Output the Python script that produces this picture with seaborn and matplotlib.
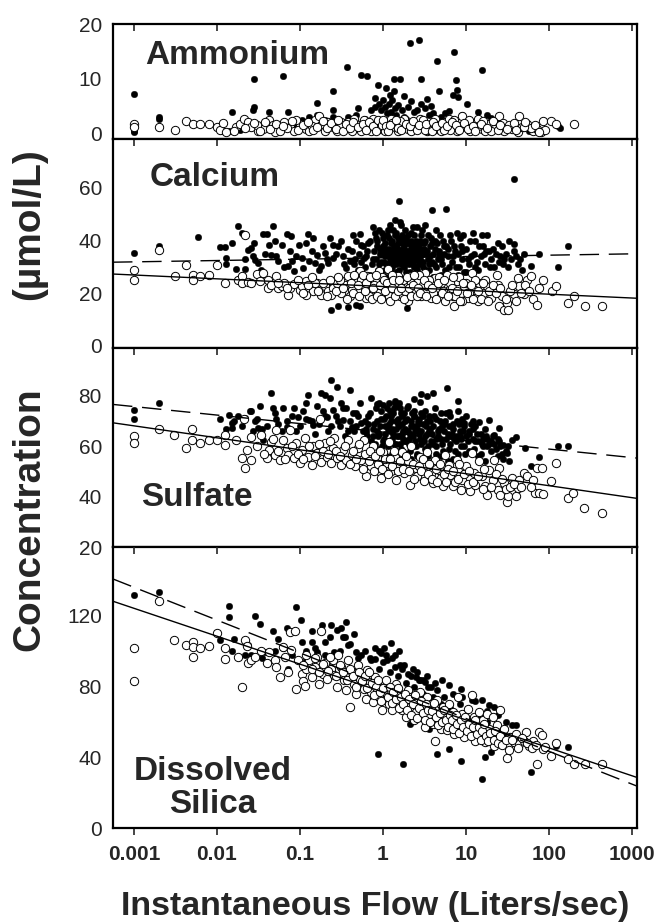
import matplotlib
matplotlib.use("Agg")
import matplotlib.pyplot as plt
import seaborn as sns
import pandas as pd
from matplotlib.ticker import NullLocator

# ---------------- data (flow in L/s, concentration in umol/L) ----------------
amm_filled = [(0.001, 7.2), (0.001, 0.4), (0.001, 0.2), (0.002, 2.9), (0.002, 2.5), (0.014, 0.4), (0.015, 3.9),
    (0.028, 9.9), (0.028, 4.8), (0.027, 4.2), (0.042, 3.9), (0.063, 10.5), (0.072, 3.9), (0.16, 3.3), (0.16, 5.5),
    (0.25, 7.7), (0.25, 4.3), (0.37, 12.1), (0.55, 10.6), (0.65, 10.5), (0.88, 8.8), (1.1, 8.2), (1.35, 9.9),
    (1.6, 9.9), (1.35, 7.7), (2.1, 16.6), (2.7, 17.1), (2.9, 9.9), (4.5, 13.2), (4.7, 7.7), (7.2, 14.8), (7.6, 9.8),
    (6.9, 6.9), (7.8, 7.8), (8.0, 6.6), (10.3, 5.4), (15.4, 11.5), (14, 3.8), (38, 1.6), (135, 0.9), (130, 1.2),
    (0.72, 4.2), (0.81, 4.8), (0.9, 5.4), (0.95, 4.2), (1.0, 6.0), (1.05, 4.8), (1.11, 3.6), (1.17, 5.4), (1.24, 3.9),
    (1.3, 6.0), (1.38, 4.5), (1.45, 3.3), (1.53, 5.1), (1.7, 4.2), (1.8, 3.0), (2.0, 4.8), (2.35, 3.9), (2.6, 4.2),
    (2.9, 5.4), (3.25, 4.5), (3.4, 6.3), (3.6, 3.3), (4.0, 3.6), (5.0, 3.0), (5.6, 3.6), (0.38, 3.0), (0.47, 3.3),
    (0.25, 3.0), (0.2, 2.4), (0.13, 3.0), (0.105, 2.4), (0.069, 1.7), (0.055, 1.4), (0.045, 1.1), (0.036, 0.8),
    (0.024, 1.1), (0.019, 0.5), (0.017, 0.8), (0.012, 0.4), (18, 3.3), (20, 2.7), (25, 2.0), (31, 1.1), (58, 0.4),
    (72, 0.4), (0.6, 2.5), (0.7, 1.8), (1.2, 2.2), (1.9, 2.6), (2.4, 1.9), (3.0, 2.4), (4.2, 2.0), (6.0, 2.2),
    (8.5, 1.5), (12, 2.0), (0.3, 1.8), (0.4, 2.2), (0.09, 1.5), (0.15, 2.0), (0.8, 6.5), (1.2, 7.0), (2.2, 5.8),
    (1.8, 6.8), (3.8, 5.0), (6.2, 4.0), (9.0, 3.3), (0.5, 4.6)]
amm_open = [(0.001, 1.7), (0.001, 1.1), (0.002, 1.1), (0.0031, 0.6), (0.0042, 2.2), (0.0052, 1.6), (0.0062, 1.6),
    (0.008, 1.6), (0.01, 1.1), (0.011, 0.5), (0.017, 1.1), (0.019, 1.7), (0.021, 2.6), (0.024, 2.0), (0.026, 1.1),
    (0.031, 0.4), (0.036, 0.8), (0.042, 2.3), (0.047, 1.4), (0.055, 0.5), (0.065, 2.0), (0.076, 1.1), (0.085, 0.4),
    (0.1, 1.7), (0.117, 0.8), (0.13, 0.4), (0.154, 2.3), (0.17, 3.2), (0.18, 1.4), (0.2, 0.4), (0.22, 2.0),
    (0.25, 1.1), (0.28, 0.4), (0.31, 2.0), (0.35, 1.1), (0.38, 2.0), (0.42, 0.4), (0.47, 1.7), (0.53, 0.8),
    (0.59, 2.3), (0.65, 1.4), (0.72, 0.4), (0.76, 2.6), (0.85, 1.7), (0.95, 0.8), (1.05, 0.4), (1.11, 2.0),
    (1.24, 2.6), (1.38, 1.1), (1.53, 0.4), (1.7, 1.7), (1.8, 2.6), (2.0, 0.8), (2.2, 0.4), (2.5, 2.0), (2.8, 2.6),
    (3.1, 1.1), (3.4, 0.4), (3.8, 1.7), (4.2, 2.6), (4.5, 0.8), (5.0, 0.4), (5.6, 2.0), (6.2, 2.6), (6.9, 1.1),
    (7.7, 0.4), (8.6, 2.0), (9.0, 3.2), (10, 1.1), (11.2, 0.4), (12.4, 1.7), (13.8, 2.6), (15.4, 0.8), (17, 0.4),
    (19, 1.7), (22, 0.8), (25, 3.2), (29, 0.4), (36, 0.8), (42, 0.2), (44, 3.2), (47, 1.1), (55, 1.7), (65, 0.4),
    (72, 0.8), (85, 2.2), (105, 2.2), (123, 1.6), (200, 1.6), (0.013, 0.2), (0.03, 1.5), (0.05, 0.2), (0.07, 0.9),
    (0.09, 2.3), (0.14, 1.2), (0.3, 1.5), (0.45, 2.6), (0.55, 0.3), (0.8, 1.0), (0.9, 2.2), (1.3, 1.8), (1.6, 2.2),
    (2.4, 1.3), (3.0, 2.3), (3.6, 0.6), (4.8, 1.5), (6.5, 0.6), (7.2, 2.3), (8.0, 1.2), (11, 2.3), (14, 1.2),
    (16, 2.2), (20, 0.3), (28, 1.9), (33, 1.4), (60, 0.9), (80, 0.2), (90, 0.5),
    (0.012, 1.8), (0.016, 0.3), (0.022, 0.9), (0.028, 1.9), (0.033, 0.3), (0.038, 2.0), (0.044, 0.7), (0.052, 1.6),
    (0.058, 0.3), (0.062, 1.2), (0.08, 2.2), (0.095, 0.5), (0.11, 1.4), (0.125, 2.1), (0.145, 0.5), (0.16, 1.1),
    (0.19, 2.2), (0.21, 0.9), (0.24, 1.8), (0.27, 0.8), (0.29, 2.4), (0.33, 0.3), (0.36, 1.6), (0.4, 1.0),
    (0.43, 2.0), (0.5, 1.1), (0.57, 1.7), (0.62, 0.6), (0.68, 2.0), (0.75, 1.2), (0.82, 0.3), (0.88, 2.4),
    (0.98, 1.4), (1.0, 2.4), (1.08, 1.2), (1.15, 0.3), (1.2, 1.5), (1.45, 2.3), (1.5, 1.0), (1.65, 0.6), (1.9, 1.7),
    (2.1, 1.2), (2.3, 2.2), (2.6, 0.5), (2.7, 1.5), (3.2, 0.6), (3.3, 1.7), (3.9, 0.3), (4.0, 2.0), (4.4, 1.2),
    (5.2, 1.8), (5.4, 0.6), (5.9, 1.3), (6.8, 2.0), (7.5, 1.5), (8.3, 0.5), (9.5, 1.8), (10.5, 0.8), (12, 1.2),
    (13, 0.3), (15, 1.6), (18, 1.0), (21, 2.2), (24, 0.6), (26, 1.5), (31, 0.8), (38, 1.9), (40, 0.5), (50, 1.1),
    (52, 2.0), (68, 1.4), (75, 0.2)]

ca_filled = [(0.001, 35.3), (0.002, 37.8), (0.006, 41.2), (0.011, 37.5), (0.0125, 37.5), (0.015, 39.1),
    (0.013, 33.4), (0.013, 31.2), (0.018, 45.4), (0.02, 42.9), (0.017, 29.2), (0.022, 29.2), (0.024, 36.5),
    (0.026, 37.2), (0.027, 34.0), (0.029, 32.7), (0.031, 31.5), (0.034, 28.9), (0.036, 42.6), (0.04, 42.6),
    (0.042, 38.4), (0.047, 45.4), (0.045, 34.6), (0.051, 34.0), (0.055, 32.1), (0.06, 38.4), (0.069, 42.6),
    (0.078, 41.9), (0.072, 30.2), (0.08, 32.1), (0.085, 28.3), (0.098, 38.4), (0.106, 33.4), (0.11, 29.5),
    (0.124, 42.6), (0.142, 41.0), (0.13, 32.1), (0.154, 31.5), (0.16, 34.6), (0.18, 30.2), (0.2, 35.3),
    (0.22, 31.5), (0.25, 38.4), (0.25, 33.4), (0.29, 37.8), (0.33, 34.0), (0.36, 29.5), (0.4, 32.1), (0.53, 42.6),
    (0.55, 38.4), (0.59, 33.4), (0.24, 13.7), (0.29, 15.0), (0.38, 14.6), (0.47, 15.6), (0.53, 15.2), (1.94, 14.3),
    (1.58, 55.2), (3.9, 51.5), (5.7, 52.0), (37.5, 63.4), (37.5, 38.8), (168, 38.0), (130, 29.9), (76, 34.9),
    (60, 30.4), (0.65, 36), (0.7, 40), (0.75, 33), (0.8, 43), (0.85, 38), (0.9, 31), (0.95, 35), (1.0, 41),
    (1.05, 29), (1.1, 37), (1.15, 44), (1.2, 33), (1.25, 39), (1.3, 30), (1.35, 35), (1.4, 42), (1.45, 28),
    (1.5, 37), (1.6, 32), (1.65, 46), (1.7, 39), (1.75, 34), (1.8, 30), (1.9, 41), (2.0, 36), (2.1, 28), (2.2, 43),
    (2.3, 33), (2.4, 38), (2.5, 30), (2.6, 45), (2.7, 35), (2.8, 40), (3.0, 32), (3.1, 37), (3.3, 29), (3.5, 42),
    (3.7, 34), (3.9, 39), (4.1, 31), (4.4, 44), (4.7, 36), (5.0, 33), (5.3, 40), (5.6, 29), (6.0, 37), (6.4, 42),
    (6.8, 32), (7.2, 38), (7.6, 30), (8.0, 35), (8.5, 41), (9.0, 33), (9.5, 28), (10, 37), (11, 31), (12, 43),
    (12.5, 35), (13, 40), (14, 29), (15, 34), (16, 38), (17, 31), (18, 42), (19, 36), (20, 33), (22, 30), (24, 39),
    (26, 34), (28, 31), (30, 35), (33, 40), (35, 33), (40, 34), (45, 33), (50, 35), (1.2, 46), (1.6, 47),
    (2.3, 45), (0.9, 44), (3.2, 46), (1.4, 48), (2.9, 42), (0.6, 30), (0.55, 32), (0.5, 29), (0.45, 31),
    (0.42, 36), (0.7, 27), (1.1, 26), (1.5, 25), (2.0, 27), (2.5, 26), (3.0, 27), (4.0, 26), (5.0, 27), (6.5, 26),
    (8.0, 27), (10, 28), (0.48, 40), (0.75, 45), (0.95, 32), (1.05, 34), (1.15, 31), (1.25, 36), (1.35, 33),
    (1.45, 38), (1.55, 34), (1.65, 31), (1.75, 37), (1.85, 33), (1.95, 35), (2.05, 31), (2.15, 38), (2.25, 35),
    (2.35, 30), (2.45, 36), (2.55, 33), (2.75, 31), (2.85, 37), (3.2, 35), (3.6, 31), (4.2, 37), (4.6, 33),
    (5.5, 35), (6.2, 30), (7.0, 34), (9.0, 36), (11.5, 34), (13.5, 32), (16.5, 35), (21, 37), (25, 32),
    (0.62, 34), (0.66, 39), (0.73, 31), (0.77, 36), (0.83, 41), (0.87, 29), (0.92, 37), (0.97, 43), (1.02, 32),
    (1.07, 39), (1.12, 35), (1.17, 41), (1.22, 29), (1.27, 34), (1.32, 44), (1.37, 38), (1.42, 31), (1.47, 36),
    (1.52, 41), (1.58, 29), (1.63, 35), (1.68, 42), (1.73, 32), (1.78, 38), (1.83, 44), (1.88, 28), (1.93, 33),
    (1.98, 39), (2.08, 34), (2.18, 40), (2.28, 31), (2.38, 42), (2.48, 35), (2.58, 29), (2.68, 38), (2.78, 33),
    (2.95, 44), (3.05, 30), (3.15, 39), (3.4, 36), (3.55, 29), (3.8, 41), (4.0, 35), (4.3, 30), (4.5, 39),
    (4.9, 42), (5.2, 31), (5.8, 38), (6.1, 34), (6.6, 40), (7.4, 36), (7.8, 43), (8.3, 30), (8.8, 38), (9.3, 42),
    (10.5, 33), (11.2, 40), (12.8, 30), (14.5, 38), (15.5, 42), (17.5, 36), (19.5, 30), (23, 35), (27, 38),
    (29, 33), (32, 30), (38, 36), (42, 31), (48, 29), (0.58, 38), (0.52, 35), (0.46, 33), (0.43, 42), (0.38, 37),
    (0.34, 31), (0.31, 40), (0.27, 35), (0.23, 41), (0.21, 33), (0.19, 38), (0.17, 29), (0.14, 36), (0.12, 39),
    (0.09, 34), (0.075, 36), (0.065, 30), (0.05, 40), (0.038, 35), (0.028, 39), (0.022, 33),
    (0.82, 33), (0.86, 40), (0.91, 35), (0.99, 38), (1.04, 36), (1.09, 31), (1.13, 42), (1.19, 37), (1.23, 34),
    (1.29, 40), (1.34, 32), (1.39, 37), (1.44, 43), (1.49, 33), (1.54, 39), (1.59, 36), (1.64, 40), (1.69, 33),
    (1.74, 41), (1.79, 35), (1.84, 39), (1.89, 36), (1.94, 32), (1.99, 42), (2.12, 36), (2.22, 32), (2.32, 39),
    (2.42, 33), (2.52, 40), (2.62, 36), (2.72, 32), (2.82, 39), (3.0, 35), (3.25, 40), (3.45, 33), (3.65, 38),
    (3.95, 32), (4.25, 40), (4.8, 35), (5.4, 38)]
ca_open = [(0.001, 28.7), (0.001, 24.9), (0.002, 36.3), (0.0031, 26.4), (0.0042, 30.6), (0.0052, 26.8),
    (0.0052, 24.9), (0.0062, 26.4), (0.008, 26.8), (0.01, 30.6), (0.0125, 23.8), (0.018, 25.1), (0.02, 26.4),
    (0.02, 23.8), (0.022, 42.2), (0.024, 24.1), (0.026, 23.8), (0.03, 27.4), (0.036, 27.6), (0.041, 25.1),
    (0.041, 21.9), (0.051, 26.4), (0.055, 21.9), (0.06, 22.8), (0.072, 19.2), (0.076, 21.9), (0.085, 23.6),
    (0.1, 21.3), (0.106, 22.6), (0.117, 24.5), (0.13, 21.9), (0.145, 20.7), (0.16, 23.8), (0.18, 19.4),
    (0.2, 22.6), (0.22, 20.7), (0.25, 21.9), (0.28, 23.8), (0.31, 20.0), (0.35, 23.2), (0.38, 26.4), (0.42, 21.3),
    (0.47, 24.5), (0.53, 28.3), (0.59, 22.6), (0.62, 18.1), (0.65, 26.4), (0.72, 21.3), (0.81, 24.5), (0.9, 28.3),
    (1.0, 22.6), (1.11, 20.0), (1.14, 29.2), (1.24, 24.5), (1.38, 21.3), (1.53, 26.4), (1.7, 18.8), (1.9, 23.2),
    (2.0, 17.2), (2.1, 26.4), (2.35, 20.7), (2.6, 24.5), (2.9, 18.8), (3.2, 27.6), (3.4, 22.6), (3.8, 18.1),
    (4.2, 25.7), (4.5, 21.3), (5.0, 23.8), (5.6, 16.9), (5.9, 27.0), (6.2, 21.3), (6.9, 18.8), (7.2, 15.0),
    (7.7, 24.5), (8.6, 20.0), (9.5, 22.6), (10.6, 18.1), (11.8, 27.6), (12.4, 21.3), (13.8, 16.9), (14.5, 23.8),
    (16.2, 20.0), (18, 22.6), (20, 18.1), (22, 20.7), (23.6, 26.8), (25, 15.2), (29, 13.7), (31, 16.2), (32, 13.7),
    (38, 19.8), (42, 25.7), (44, 22.8), (50, 19.8), (55, 25.1), (60, 26.4), (65, 17.8), (71, 15.6), (76, 21.9),
    (85, 25.1), (110, 20.9), (120, 22.6), (168, 16.2), (200, 19.0), (270, 15.0), (440, 15.0), (0.55, 25),
    (0.68, 19), (0.78, 23), (0.88, 20), (0.98, 26), (1.08, 22), (1.18, 19), (1.3, 27), (1.45, 23), (1.6, 19),
    (1.75, 25), (1.85, 21), (2.2, 24), (2.5, 21), (2.7, 27), (3.0, 23), (3.6, 25), (4.0, 20), (4.8, 26), (5.3, 21),
    (6.5, 24), (7.4, 19), (8.2, 26), (9.0, 17), (10, 24), (11, 20), (13, 25), (15, 18), (17, 25), (19, 21),
    (24, 23), (27, 19), (34, 21), (40, 17), (0.12, 19.5), (0.15, 24), (0.24, 19.5), (0.3, 25), (0.4, 19),
    (0.45, 27), (0.065, 24), (0.045, 23), (0.033, 24.5),
    (0.055, 24), (0.07, 22), (0.095, 25), (0.11, 20), (0.125, 23), (0.14, 26), (0.165, 21), (0.19, 24), (0.21, 19),
    (0.23, 25), (0.27, 21), (0.29, 26), (0.33, 22), (0.37, 18), (0.41, 24), (0.44, 20), (0.5, 23), (0.52, 19),
    (0.57, 27), (0.6, 21), (0.63, 24), (0.7, 26), (0.74, 18), (0.76, 22), (0.83, 27), (0.86, 19), (0.93, 23),
    (0.96, 18), (1.03, 25), (1.06, 21), (1.13, 24), (1.2, 17), (1.27, 22), (1.33, 25), (1.4, 19), (1.5, 21),
    (1.55, 25), (1.65, 22), (1.78, 18), (1.95, 26), (2.05, 22), (2.15, 19), (2.3, 23), (2.4, 27), (2.55, 19),
    (2.65, 22), (2.8, 20), (3.1, 25), (3.3, 19), (3.5, 23), (3.9, 22), (4.3, 18), (4.6, 24), (5.1, 20), (5.5, 25),
    (6.0, 19), (6.8, 22), (7.0, 26), (7.9, 21), (8.4, 17), (9.2, 24), (10.2, 20), (11.5, 23), (12, 18), (14, 21),
    (16, 24), (18.5, 17), (21, 23), (23, 20), (26, 22), (30, 18), (36, 23), (46, 20), (52, 23), (58, 21)]

so4_filled = [(0.001, 74.3), (0.001, 70.7), (0.002, 77.0), (0.011, 70.8), (0.014, 72.4), (0.015, 69.3),
    (0.015, 67.1), (0.02, 68.0), (0.022, 71.1), (0.026, 74.1), (0.029, 70.1), (0.031, 67.1), (0.033, 75.9),
    (0.036, 62.5), (0.045, 81.2), (0.047, 75.0), (0.051, 70.7), (0.062, 75.0), (0.069, 67.8), (0.085, 75.0),
    (0.095, 71.7), (0.117, 77.0), (0.124, 80.3), (0.13, 70.4), (0.145, 68.4), (0.18, 81.2), (0.2, 80.3),
    (0.21, 71.7), (0.24, 86.4), (0.23, 79.3), (0.25, 74.3), (0.28, 83.6), (0.31, 77.0), (0.33, 70.4), (0.36, 75.0),
    (0.4, 82.5), (0.42, 67.8), (0.47, 73.0), (0.53, 77.0), (0.55, 69.1), (0.62, 65.8), (0.72, 79.3), (0.85, 76.7),
    (1.0, 76.3), (1.17, 77.0), (1.38, 77.0), (1.58, 77.0), (2.35, 78.9), (2.8, 77.6), (2.9, 80.9), (3.4, 79.9),
    (4.0, 81.2), (5.9, 83.2), (6.2, 73.7), (8.1, 78.0), (9.5, 69.1), (14.5, 69.7), (19, 70.4), (22, 64.5),
    (25, 67.1), (28, 60.5), (31, 57.2), (36, 62.5), (40, 63.8), (52, 59.2), (60, 52.0), (76, 55.7), (130, 59.9),
    (168, 60.1), (0.6, 70), (0.65, 64), (0.7, 73), (0.75, 67), (0.8, 61), (0.85, 70), (0.9, 65), (0.95, 74),
    (1.0, 62), (1.05, 68), (1.1, 72), (1.15, 60), (1.2, 66), (1.25, 70), (1.3, 63), (1.35, 75), (1.4, 58),
    (1.45, 67), (1.5, 71), (1.55, 64), (1.6, 61), (1.7, 69), (1.8, 73), (1.9, 62), (2.0, 66), (2.1, 58), (2.2, 70),
    (2.3, 64), (2.4, 74), (2.5, 60), (2.6, 67), (2.7, 71), (2.8, 63), (3.0, 69), (3.2, 59), (3.4, 65), (3.6, 72),
    (3.8, 62), (4.0, 68), (4.3, 57), (4.6, 64), (4.9, 70), (5.2, 61), (5.5, 66), (5.8, 73), (6.2, 59), (6.6, 64),
    (7.0, 69), (7.5, 62), (8.0, 57), (8.5, 66), (9.0, 71), (9.5, 60), (10, 64), (11, 58), (12, 67), (13, 62),
    (14, 56), (15, 65), (16, 60), (17, 54), (18, 63), (20, 58), (22, 61), (24, 56), (26, 60), (28, 55), (30, 58),
    (33, 54), (0.5, 72), (0.45, 66), (0.4, 70), (0.35, 64), (0.3, 68), (0.27, 72), (0.22, 66), (0.19, 74),
    (0.17, 69), (0.15, 65), (0.12, 71), (0.1, 68), (0.08, 72), (0.06, 66), (0.055, 69), (0.035, 67), (0.03, 71),
    (0.025, 74), (0.018, 72), (0.013, 67), (0.7, 58), (0.9, 59), (1.1, 56), (1.3, 57), (1.6, 55), (1.9, 57),
    (2.2, 55), (2.6, 56), (3.0, 54), (3.5, 56), (4.0, 54), (5.0, 56), (6.0, 54), (7.0, 55), (1.2, 74), (1.6, 75),
    (2.0, 76), (2.4, 72), (3.2, 74), (4.2, 75), (5.0, 73), (6.5, 72), (8.0, 74), (10, 72), (12, 70), (0.9, 77),
    (1.4, 78), (1.1, 62), (1.7, 65), (2.3, 68), (2.9, 61), (3.6, 66), (4.4, 63), (5.4, 69), (6.8, 65), (8.8, 63),
    (11, 66), (14, 62), (18, 60), (24, 63),
    (0.62, 67), (0.67, 72), (0.72, 62), (0.77, 69), (0.82, 75), (0.87, 64), (0.92, 68), (0.97, 60), (1.02, 71),
    (1.07, 65), (1.12, 75), (1.17, 69), (1.22, 62), (1.27, 67), (1.32, 73), (1.37, 61), (1.42, 70), (1.47, 64),
    (1.52, 76), (1.58, 68), (1.63, 59), (1.68, 72), (1.73, 66), (1.78, 62), (1.85, 70), (1.95, 75), (2.05, 63),
    (2.15, 68), (2.25, 60), (2.35, 72), (2.45, 66), (2.55, 57), (2.65, 70), (2.75, 65), (2.9, 73), (3.1, 62),
    (3.3, 68), (3.5, 60), (3.7, 70), (3.9, 65), (4.1, 72), (4.4, 60), (4.7, 67), (5.0, 63), (5.3, 58), (5.6, 70),
    (6.0, 65), (6.4, 61), (6.9, 67), (7.3, 58), (7.8, 64), (8.3, 69), (8.7, 60), (9.2, 66), (9.8, 57), (10.5, 62),
    (11.5, 69), (12.5, 59), (13.5, 65), (15, 57), (16, 63), (17, 67), (19, 61), (21, 64), (23, 59), (25, 62),
    (27, 57), (32, 60), (0.58, 66), (0.53, 61), (0.48, 68), (0.43, 73), (0.38, 66), (0.33, 75), (0.29, 70),
    (0.24, 68), (0.2, 72), (0.16, 76), (0.14, 70), (0.11, 74), (0.09, 66), (0.07, 70), (0.05, 73), (0.04, 68),
    (0.027, 66), (0.016, 70),
    (0.84, 66), (0.94, 71), (1.04, 63), (1.14, 67), (1.24, 72), (1.34, 65), (1.44, 61), (1.54, 69), (1.64, 73),
    (1.74, 63), (1.84, 67), (1.94, 71), (2.04, 61), (2.14, 65), (2.24, 73), (2.44, 62), (2.64, 69), (2.84, 66),
    (3.04, 72), (3.24, 64), (3.44, 70), (3.74, 67), (4.04, 61), (4.34, 71), (4.64, 66), (5.1, 68), (5.7, 63),
    (6.3, 68), (7.1, 63), (7.7, 70), (8.4, 64), (9.6, 68), (10.8, 65), (12, 63), (13, 68), (15.5, 61), (17.5, 64),
    (20, 62), (0.66, 69), (0.76, 64)]
so4_open = [(0.001, 64.1), (0.001, 61.4), (0.002, 66.7), (0.003, 64.5), (0.0042, 59.5), (0.005, 66.7),
    (0.005, 62.5), (0.0062, 61.4), (0.008, 62.5), (0.01, 62.5), (0.0125, 64.5), (0.0125, 60.5), (0.017, 62.5),
    (0.02, 55.3), (0.022, 51.3), (0.023, 58.6), (0.021, 70.8), (0.026, 54.6), (0.026, 63.8), (0.034, 64.5),
    (0.04, 55.3), (0.042, 58.6), (0.045, 61.8), (0.05, 56.6), (0.051, 66.4), (0.058, 54.6), (0.062, 62.5),
    (0.069, 59.2), (0.072, 56.6), (0.076, 66.4), (0.085, 55.3), (0.09, 61.2), (0.1, 53.3), (0.106, 58.6),
    (0.115, 63.2), (0.124, 55.9), (0.138, 52.6), (0.145, 59.9), (0.16, 57.2), (0.175, 70.7), (0.18, 53.9),
    (0.2, 61.2), (0.21, 55.9), (0.24, 53.3), (0.25, 59.2), (0.26, 63.2), (0.28, 55.3), (0.31, 52.6), (0.33, 58.6),
    (0.36, 54.6), (0.38, 62.5), (0.42, 56.6), (0.46, 52.0), (0.5, 59.2), (0.55, 54.6), (0.59, 62.5), (0.62, 48.0),
    (0.65, 56.6), (0.72, 52.0), (0.76, 59.9), (0.85, 55.3), (0.9, 50.0), (0.95, 47.4), (1.0, 57.9), (1.11, 53.3),
    (1.17, 61.8), (1.24, 50.0), (1.38, 55.9), (1.45, 46.7), (1.53, 52.0), (1.7, 57.9), (1.8, 49.3), (2.0, 54.0),
    (2.1, 44.7), (2.2, 59.9), (2.5, 51.3), (2.6, 48.0), (2.8, 55.9), (3.1, 46.1), (3.25, 52.6), (3.4, 57.9),
    (3.8, 49.3), (4.0, 45.4), (4.2, 54.6), (4.7, 50.7), (5.0, 47.4), (5.3, 44.1), (5.6, 56.6), (6.2, 52.6),
    (6.5, 48.7), (6.9, 44.1), (7.7, 54.6), (8.1, 50.0), (8.6, 42.8), (9.0, 46.7), (10, 52.0), (11.2, 42.1),
    (11.8, 57.2), (12.4, 49.3), (13, 44.7), (14.5, 54.0), (15.4, 48.0), (17, 44.1), (18, 40.8), (19, 50.7),
    (21, 46.7), (22, 54.6), (24, 42.8), (25, 51.3), (26, 40.8), (29, 45.4), (31, 37.8), (32, 40.1), (36, 47.4),
    (40, 40.1), (42, 43.4), (44, 46.7), (50, 49.3), (55, 48.0), (65, 46.7), (68, 41.4), (72, 51.3), (76, 41.4),
    (82, 51.3), (85, 41.2), (105, 46.1), (120, 53.3), (168, 39.5), (195, 41.4), (265, 35.5), (440, 33.6),
    (0.03, 60), (0.037, 57), (0.048, 63), (0.055, 58), (0.066, 55), (0.08, 60), (0.095, 57), (0.11, 55),
    (0.13, 60), (0.15, 56), (0.17, 61), (0.19, 58), (0.22, 57), (0.23, 62), (0.27, 58), (0.3, 56), (0.35, 60),
    (0.4, 53), (0.44, 58), (0.48, 55), (0.52, 61), (0.57, 51), (0.6, 57), (0.68, 54), (0.7, 58), (0.78, 50),
    (0.8, 56), (0.88, 53), (0.93, 58), (0.98, 51), (1.05, 55), (1.15, 49), (1.2, 55), (1.3, 52), (1.35, 58),
    (1.5, 50), (1.6, 54), (1.75, 51), (1.9, 56), (2.05, 50), (2.3, 53), (2.4, 47), (2.7, 52), (2.9, 50), (3.0, 55),
    (3.5, 49), (3.6, 53), (3.9, 47), (4.4, 51), (4.5, 46), (4.9, 53), (5.4, 49), (5.8, 46), (6.0, 51), (7.0, 50),
    (7.3, 46), (8.0, 47), (8.3, 53), (9.4, 49), (10.5, 45), (11, 50), (12, 46), (14, 48), (16, 43), (16.5, 51),
    (20, 44), (23, 49), (27, 47), (30, 43), (34, 44), (38, 45), (46, 44), (60, 44)]

si_filled = [(0.001, 131.6), (0.002, 133.5), (0.011, 106.3), (0.014, 125.7), (0.014, 119.6), (0.015, 100.3),
    (0.016, 106.7), (0.024, 103.5), (0.026, 97.8), (0.029, 120.0), (0.033, 115.5), (0.038, 99.7), (0.047, 111.5),
    (0.055, 106.7), (0.062, 101.6), (0.069, 113.0), (0.072, 89.7), (0.085, 111.5), (0.09, 124.9), (0.104, 117.7),
    (0.106, 105.4), (0.117, 100.3), (0.138, 111.5), (0.138, 105.4), (0.16, 99.7), (0.184, 114.9), (0.2, 105.4),
    (0.23, 107.9), (0.24, 114.9), (0.26, 99.7), (0.31, 113.0), (0.33, 108.2), (0.36, 116.8), (0.38, 103.5),
    (0.47, 99.7), (0.55, 97.8), (0.72, 95.0), (0.81, 95.9), (0.88, 41.9), (0.95, 98.8), (1.02, 101.6), (1.11, 95.0),
    (1.24, 104.5), (1.38, 91.2), (1.58, 100.3), (1.76, 36.2), (1.8, 92.1), (2.0, 87.4), (2.1, 59.0), (2.5, 85.5),
    (2.8, 83.6), (3.25, 82.7), (3.8, 79.8), (4.5, 41.9), (6.2, 80.8), (6.2, 44.7), (8.6, 78.9), (8.8, 38.1),
    (11.8, 72.2), (15.4, 72.2), (15.4, 27.7), (17, 40.0), (19, 69.4), (20, 42.8), (22, 68.4), (28, 53.3),
    (36, 58.0), (60, 31.5), (123, 46.6), (168, 46.0), (0.5, 92), (0.6, 88), (0.7, 96), (0.9, 90), (1.0, 94),
    (1.2, 88), (1.3, 96), (1.5, 86), (1.7, 90), (1.9, 82), (2.2, 86), (2.4, 80), (2.7, 84), (3.0, 76), (3.5, 80),
    (4.0, 74), (4.5, 78), (5.0, 70), (5.5, 74), (6.5, 68), (7.5, 64), (8.5, 70), (10, 62), (12, 58), (14, 64),
    (16, 55), (18, 60), (21, 52), (25, 55), (30, 50), (35, 52), (0.25, 95), (0.3, 100), (0.2, 98), (0.15, 102),
    (0.12, 95), (0.08, 98), (0.05, 100), (0.035, 96), (0.022, 98), (3.2, 58), (3.6, 56), (2.0, 76),
    (0.4, 104), (0.45, 110), (0.28, 112), (0.35, 108), (0.6, 100), (0.8, 102), (0.5, 96), (1.4, 98), (1.6, 92),
    (2.3, 90), (2.6, 88), (3.0, 84), (3.4, 86), (4.2, 82), (5.2, 84), (7, 76), (9, 74), (13, 72), (18, 66),
    (24, 64), (30, 60), (40, 58), (0.9, 100), (1.1, 98)]
si_open = [(0.001, 101.6), (0.001, 83.2), (0.002, 128.2), (0.003, 106.3), (0.0042, 103.3), (0.0052, 105.4),
    (0.0052, 96.5), (0.0052, 102.2), (0.0062, 101.6), (0.008, 102.9), (0.01, 110.1), (0.0125, 101.6),
    (0.0125, 95.5), (0.018, 96.5), (0.02, 79.8), (0.022, 106.3), (0.023, 102.9), (0.024, 93.1), (0.026, 95.0),
    (0.029, 96.9), (0.034, 100.3), (0.04, 93.1), (0.042, 99.7), (0.05, 95.0), (0.051, 91.2), (0.058, 85.5),
    (0.062, 102.2), (0.067, 96.9), (0.072, 88.3), (0.075, 111.1), (0.078, 100.7), (0.087, 111.7), (0.09, 78.9),
    (0.095, 95.0), (0.106, 87.4), (0.108, 83.2), (0.115, 80.2), (0.117, 90.2), (0.13, 95.0), (0.138, 85.5),
    (0.154, 91.2), (0.16, 96.5), (0.17, 81.7), (0.18, 111.7), (0.19, 87.4), (0.2, 93.1), (0.21, 84.5),
    (0.24, 90.2), (0.25, 95.0), (0.26, 86.4), (0.28, 79.8), (0.29, 97.8), (0.31, 91.2), (0.34, 83.6), (0.36, 77.9),
    (0.38, 95.0), (0.4, 68.4), (0.42, 88.3), (0.45, 81.7), (0.47, 76.0), (0.5, 92.1), (0.53, 84.5), (0.59, 78.9),
    (0.62, 73.2), (0.65, 89.3), (0.69, 82.7), (0.72, 77.0), (0.76, 71.3), (0.81, 85.5), (0.85, 79.8), (0.9, 74.1),
    (0.98, 66.5), (1.05, 81.7), (1.11, 76.0), (1.17, 70.3), (1.24, 78.0), (1.3, 66.5), (1.38, 74.1), (1.45, 81.7),
    (1.53, 70.3), (1.6, 76.0), (1.7, 66.5), (1.8, 72.2), (1.9, 62.7), (2.0, 78.0), (2.1, 68.4), (2.2, 74.1),
    (2.35, 60.9), (2.5, 65.6), (2.6, 71.3), (2.8, 77.0), (2.9, 62.7), (3.1, 68.4), (3.25, 57.1), (3.4, 74.1),
    (3.6, 64.6), (3.8, 70.3), (4.0, 59.0), (4.2, 49.5), (4.2, 66.5), (4.5, 72.2), (4.7, 61.8), (5.0, 56.1),
    (5.3, 68.4), (5.6, 63.7), (5.9, 55.2), (6.2, 70.3), (6.5, 59.0), (6.9, 65.6), (7.2, 53.3), (7.7, 62.7),
    (8.1, 74.1), (8.6, 57.1), (9.0, 64.6), (9.5, 51.4), (10, 60.9), (10.6, 67.5), (11.2, 55.2), (11.8, 75.1),
    (12.4, 62.7), (13, 49.5), (13.8, 58.0), (14.5, 65.6), (15.4, 53.3), (16.2, 60.9), (17, 48.5), (18, 64.6),
    (19, 56.1), (20, 51.4), (21, 62.7), (22, 46.6), (23.6, 58.0), (25, 53.3), (26, 66.5), (28, 49.5), (29, 56.1),
    (31, 39.6), (32, 46.6), (34, 51.4), (38, 48.5), (40, 53.3), (44, 47.6), (50, 49.5), (53, 54.2), (58, 46.6),
    (65, 49.5), (71, 36.2), (76, 54.2), (82, 52.9), (85, 44.7), (105, 40.9), (120, 48.0), (168, 39.1),
    (200, 36.2), (270, 36.2), (440, 36.2),
    (0.11, 92), (0.12, 98), (0.14, 90), (0.15, 96), (0.17, 88), (0.19, 93), (0.22, 89), (0.23, 97), (0.27, 86),
    (0.3, 92), (0.33, 88), (0.37, 84), (0.4, 90), (0.44, 86), (0.48, 80), (0.52, 88), (0.56, 83), (0.6, 86),
    (0.64, 79), (0.68, 88), (0.74, 82), (0.78, 75), (0.83, 80), (0.88, 84), (0.93, 77), (0.96, 72), (1.0, 79),
    (1.08, 84), (1.14, 74), (1.2, 80), (1.27, 71), (1.33, 77), (1.42, 73), (1.5, 79), (1.56, 68), (1.65, 74),
    (1.75, 70), (1.85, 76), (1.95, 67), (2.05, 73), (2.15, 64), (2.3, 70), (2.45, 75), (2.55, 62), (2.7, 68),
    (2.85, 72), (3.0, 65), (3.2, 61), (3.3, 70), (3.5, 67), (3.7, 60), (3.9, 66), (4.1, 71), (4.4, 63), (4.6, 58),
    (4.9, 65), (5.2, 60), (5.5, 67), (5.8, 61), (6.1, 57), (6.4, 64), (6.7, 61), (7.0, 56), (7.5, 64), (7.9, 59),
    (8.3, 54), (8.8, 61), (9.3, 57), (9.8, 63), (10.3, 55), (11, 59), (11.5, 52), (12.2, 57), (12.8, 61),
    (13.5, 53), (14.2, 57), (15, 50), (15.8, 55), (16.6, 59), (17.5, 52), (18.5, 49), (19.5, 54), (21.5, 50),
    (22.5, 55), (24, 48), (25.5, 52), (27, 47), (30, 50), (33, 44), (36, 50), (42, 45), (47, 51), (55, 48),
    (62, 45), (70, 47), (90, 46)]

# regression lines read at the plot edges: (flow, concentration)
ca_line_open = [(0.00056, 27.3), (1150, 18.1)]
ca_line_filled = [(0.00056, 31.8), (1150, 35.0)]
so4_line_open = [(0.00056, 69.3), (1150, 39.3)]
so4_line_filled = [(0.00056, 76.6), (1150, 55.3)]
si_line_open = [(0.00056, 128.3), (1150, 28.6)]
si_line_filled = [(0.00056, 140.9), (1150, 23.7)]

panel_names = ["Ammonium", "Calcium", "Sulfate", "Dissolved\nSilica"]
y_ticks = [[0, 10, 20], [0, 20, 40, 60], [20, 40, 60, 80], [0, 40, 80, 120]]
y_limits = [(-1.1, 20), (-0.8, 78.6), (20, 99), (0, 159)]
x_ticks = [0.001, 0.01, 0.1, 1, 10, 100, 1000]
x_tick_labels = ["0.001", "0.01", "0.1", "1", "10", "100", "1000"]

# ---------------- style ----------------
sns.set_style("white")
plt.rcParams['font.family'] = ['Liberation Sans', 'DejaVu Sans']
plt.rcParams['axes.linewidth'] = 1.6

fig = plt.figure(figsize=(6.59, 9.22), dpi=100)
W, H = 659.0, 922.0
left_px, right_px = 113, 637
bounds = [(24, 139), (139, 348), (348, 547), (547, 828)]
axes = []
for top, bot in bounds:
    ax = fig.add_axes([left_px / W, 1 - bot / H, (right_px - left_px) / W, (bot - top) / H])
    axes.append(ax)

series = [(amm_filled, amm_open, None, None),
          (ca_filled, ca_open, ca_line_filled, ca_line_open),
          (so4_filled, so4_open, so4_line_filled, so4_line_open),
          (si_filled, si_open, si_line_filled, si_line_open)]

label_pos = [(0.061, 0.73, 'left'), (0.069, 0.818, 'left'), (0.053, 0.251, 'left'), (0.191, 0.142, 'center')]

for i, (ax, (fil, opn, lf, lo)) in enumerate(zip(axes, series)):
    dff = pd.DataFrame(fil, columns=["flow", "conc"])
    dfo = pd.DataFrame(opn, columns=["flow", "conc"])
    sns.scatterplot(data=dff, x="flow", y="conc", ax=ax, color="black", s=22,
                    edgecolor="black", linewidth=0.3, zorder=3)
    sns.scatterplot(data=dfo, x="flow", y="conc", ax=ax, color="white", s=36,
                    edgecolor="black", linewidth=0.7, zorder=4)
    if lf is not None:
        dlf = pd.DataFrame(lf, columns=["flow", "conc"])
        dlo = pd.DataFrame(lo, columns=["flow", "conc"])
        sns.lineplot(data=dlf, x="flow", y="conc", ax=ax, color="black", linewidth=1.0,
                     linestyle=(0, (14, 7)), zorder=5)
        sns.lineplot(data=dlo, x="flow", y="conc", ax=ax, color="black", linewidth=1.0, zorder=5)
    ax.set_xscale("log")
    ax.set_xlim(0.00056, 1150)
    ax.set_ylim(*y_limits[i])
    ax.set_yticks(y_ticks[i])
    ax.set_yticklabels([str(t) for t in y_ticks[i]])
    ax.set_xticks(x_ticks)
    ax.xaxis.set_minor_locator(NullLocator())
    ax.set_xlabel("")
    ax.set_ylabel("")
    ax.tick_params(axis='y', direction='out', length=5, width=1.2, labelsize=15, pad=3)
    for sp in ax.spines.values():
        sp.set_visible(True)
        sp.set_color("black")
        sp.set_linewidth(1.6)
    lx, ly, ha = label_pos[i]
    ax.text(lx, ly, panel_names[i], transform=ax.transAxes, ha=ha, va='center',
            fontsize=24, fontweight='bold', linespacing=1.05, zorder=6)
    if i < 3:
        ax.tick_params(axis='x', direction='in', top=True, bottom=False, labelbottom=False,
                       length=5, width=1.2)
    else:
        ax.set_xticklabels(x_tick_labels)
        ax.tick_params(axis='x', direction='out', top=False, bottom=True, length=5, width=1.2,
                       labelsize=15, pad=7)
        for lab in ax.get_xticklabels():
            lab.set_fontweight('bold')
        ax2 = ax.twiny()
        ax2.set_xscale("log")
        ax2.set_xlim(0.00056, 1150)
        ax2.set_xticks(x_ticks)
        ax2.xaxis.set_minor_locator(NullLocator())
        ax2.tick_params(axis='x', direction='in', top=True, labeltop=False, length=5, width=1.2)
        for sp in ax2.spines.values():
            sp.set_visible(False)

fig.text((left_px + right_px) / 2 / W, 1 - 906 / H, "Instantaneous Flow (Liters/sec)",
         ha='center', va='center', fontsize=24.5, fontweight='bold')
fig.text(29 / W, 1 - 224 / H, "(µmol/L)", rotation=90,
         ha='center', va='center', fontsize=28, fontweight='bold')
fig.text(29 / W, 1 - 519 / H, "Concentration", rotation=90,
         ha='center', va='center', fontsize=28, fontweight='bold')

fig.savefig("out.png", dpi=100)
